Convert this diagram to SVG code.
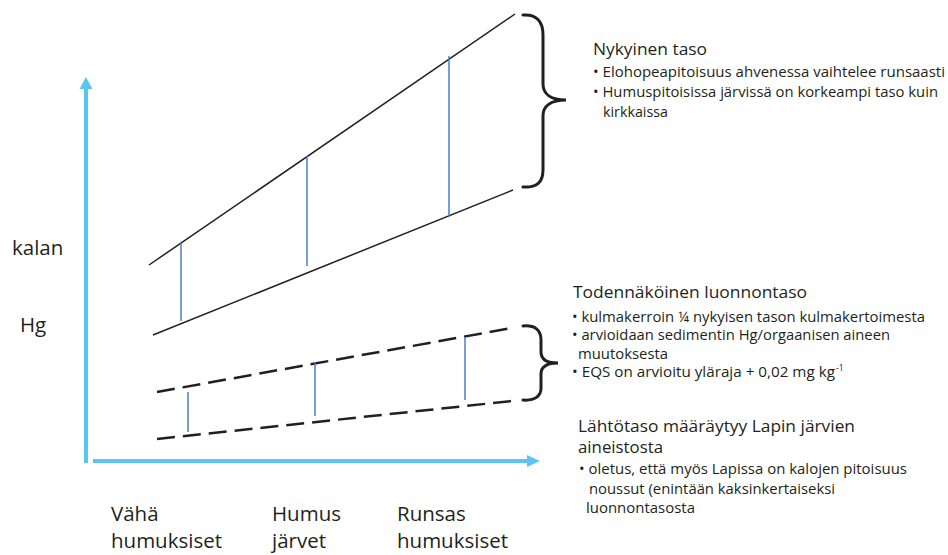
<svg xmlns="http://www.w3.org/2000/svg" width="948" height="555" viewBox="0 0 948 555">
<style>
.ax{stroke:#5BC5F2;stroke-width:4;fill:none}
.ah{fill:#5BC5F2}
.sol{stroke:#231F20;stroke-width:1.5;fill:none}
.dash{stroke:#231F20;stroke-width:2.5;fill:none;stroke-dasharray:18 8}
.bl{stroke:#4A7CC9;stroke-width:1.5;fill:none}
.br{stroke:#231F20;stroke-width:3;fill:none;stroke-linecap:round}
text{font-family:"Open Sans","Noto Sans",sans-serif;fill:#231F20}
.lab{font-size:20.5px}
.hd{font-size:16.5px}
.tx{font-size:14px}
</style>
<rect width="948" height="555" fill="#fff"/>
<g id="axes">
<line class="ax" x1="86" y1="463" x2="86" y2="88"/>
<polygon class="ah" points="86,77 79.5,89 92.5,89"/>
<line class="ax" x1="93" y1="461" x2="528" y2="461"/>
<polygon class="ah" points="540,461 527,455 527,467"/>
</g>
<g id="connectors">
<line class="sol" x1="149" y1="265" x2="515" y2="14"/>
<line class="sol" x1="153" y1="335" x2="513" y2="190"/>
<line class="bl" x1="181" y1="243" x2="181" y2="321"/>
<line class="bl" x1="307" y1="156" x2="307" y2="266"/>
<line class="bl" x1="449" y1="56" x2="449" y2="217"/>
<line class="dash" x1="157" y1="392" x2="512" y2="328"/>
<line class="dash" x1="157" y1="439" x2="512" y2="401"/>
<line class="bl" x1="188" y1="392" x2="188" y2="432"/>
<line class="bl" x1="315" y1="362" x2="315" y2="416"/>
<line class="bl" x1="465" y1="337" x2="465" y2="400"/>
</g>
<g id="brace-top">
<path class="br" d="M523,15 C537,14 543,22 543,35 L543,84 C543,94 551,100 566,100 C551,100 543,106 543,116 L543,170 C543,182 537,188 523,187"/>
</g>
<g id="brace-bottom">
<path class="br" d="M523,326 C535,325 541,330 541,340 L541,352 C541,359 547,363 558,363 C547,363 541,367 541,374 L541,388 C541,396 535,401 523,400"/>
</g>
<g id="y-label">
<text class="lab" x="12" y="255">kalan</text>
<text class="lab" x="20" y="332">Hg</text>
</g>
<g id="x-labels">
<text class="lab" x="111" y="521">Vähä</text>
<text class="lab" x="111" y="548">humuksiset</text>
<text class="lab" x="272" y="521">Humus</text>
<text class="lab" x="272" y="548">järvet</text>
<text class="lab" x="397" y="521">Runsas</text>
<text class="lab" x="397" y="548">humuksiset</text>
</g>
<g id="current-level">
<text class="hd" x="593" y="55" textLength="114" lengthAdjust="spacingAndGlyphs">Nykyinen taso</text>
<text class="tx" x="593" y="77" textLength="352" lengthAdjust="spacingAndGlyphs">• Elohopeapitoisuus ahvenessa vaihtelee runsaasti</text>
<text class="tx" x="593" y="97" textLength="345" lengthAdjust="spacingAndGlyphs">• Humuspitoisissa järvissä on korkeampi taso kuin</text>
<text class="tx" x="603" y="117" textLength="65" lengthAdjust="spacingAndGlyphs">kirkkaissa</text>
</g>
<g id="natural-level">
<text class="hd" x="573" y="298" textLength="234" lengthAdjust="spacingAndGlyphs">Todennäköinen luonnontaso</text>
<text class="tx" x="572" y="322" textLength="353" lengthAdjust="spacingAndGlyphs">• kulmakerroin ¼ nykyisen tason kulmakertoimesta</text>
<text class="tx" x="572" y="340" textLength="318" lengthAdjust="spacingAndGlyphs">• arvioidaan sedimentin Hg/orgaanisen aineen</text>
<text class="tx" x="578" y="359" textLength="90" lengthAdjust="spacingAndGlyphs">muutoksesta</text>
<text class="tx" x="572" y="377" textLength="263" lengthAdjust="spacingAndGlyphs">• EQS on arvioitu yläraja + 0,02 mg kg</text>
<text x="836" y="371" style="font-size:8.5px">-1</text>
</g>
<g id="baseline-level">
<text class="hd" x="578" y="432" textLength="277" lengthAdjust="spacingAndGlyphs">Lähtötaso määräytyy Lapin järvien</text>
<text class="hd" x="578" y="453" textLength="85" lengthAdjust="spacingAndGlyphs">aineistosta</text>
<text class="tx" x="579" y="474" textLength="328" lengthAdjust="spacingAndGlyphs">• oletus, että  myös Lapissa on kalojen pitoisuus</text>
<text class="tx" x="589" y="494" textLength="246" lengthAdjust="spacingAndGlyphs">noussut (enintään kaksinkertaiseksi</text>
<text class="tx" x="586" y="513" textLength="109" lengthAdjust="spacingAndGlyphs">luonnontasosta</text>
</g>
</svg>
